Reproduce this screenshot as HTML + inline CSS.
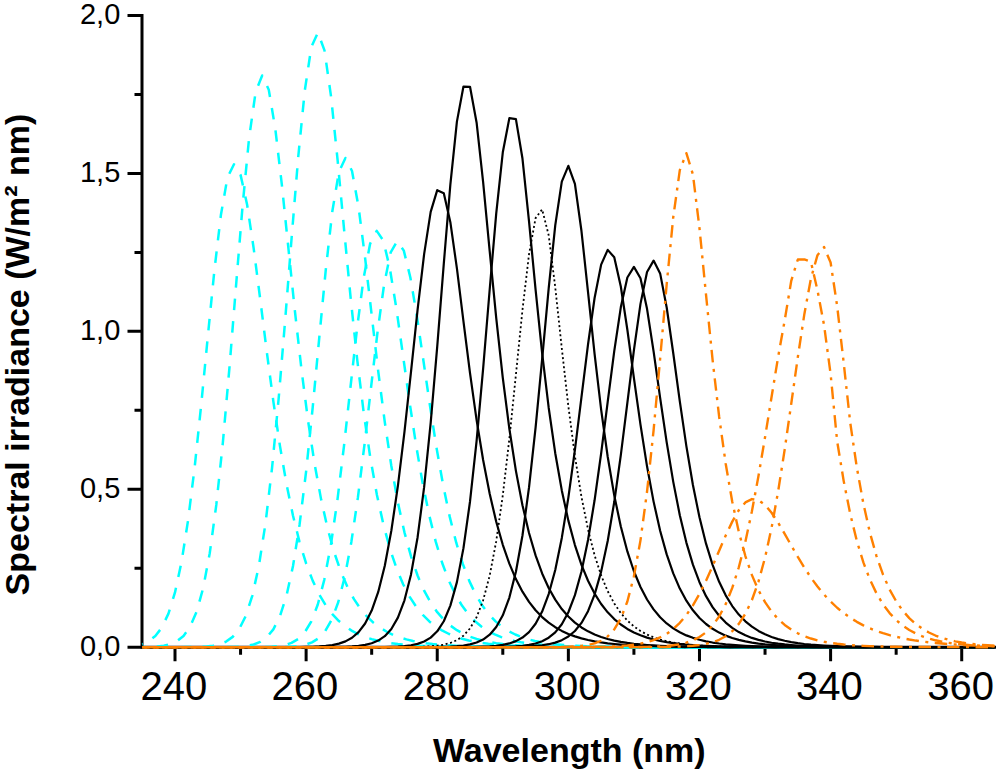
<!DOCTYPE html>
<html><head><meta charset="utf-8"><style>
html,body{margin:0;padding:0;background:#fff;}
body{width:1000px;height:773px;overflow:hidden;}
svg{display:block;font-family:"Liberation Sans",sans-serif;}
</style></head><body>
<svg width="1000" height="773" viewBox="0 0 1000 773">
<rect width="1000" height="773" fill="#fff"/>
<path d="M142.0 15.5 V647.2 H994.5" fill="none" stroke="#000" stroke-width="3" stroke-linecap="square"/>
<path d="M127.5 647.20 H142.0 M127.5 489.28 H142.0 M127.5 331.35 H142.0 M127.5 173.43 H142.0 M127.5 15.50 H142.0 M134.5 568.24 H142.0 M134.5 410.31 H142.0 M134.5 252.39 H142.0 M134.5 94.46 H142.0 M175.00 647.2 V661.2 M306.12 647.2 V661.2 M437.24 647.2 V661.2 M568.36 647.2 V661.2 M699.48 647.2 V661.2 M830.60 647.2 V661.2 M961.72 647.2 V661.2 M240.56 647.2 V654.7 M371.68 647.2 V654.7 M502.80 647.2 V654.7 M633.92 647.2 V654.7 M765.04 647.2 V654.7 M896.16 647.2 V654.7" fill="none" stroke="#000" stroke-width="3"/>
<g>
<polyline fill="none" stroke-linejoin="round" stroke="#00FFFF" stroke-width="2.5" stroke-dasharray="11.5 11.1" stroke-dashoffset="10.82" points="142.22,644.05 148.78,641.17 155.33,636.09 161.89,627.49 168.44,613.63 175.00,592.43 181.56,561.77 188.11,520.08 194.67,467.07 201.22,404.53 207.78,336.85 214.34,270.90 220.89,215.06 227.45,177.52 234.00,164.27 240.56,174.89 247.12,204.69 253.67,248.37 260.23,299.35 266.78,351.73 273.34,401.29 279.90,445.62 286.45,483.79 293.01,515.77 299.56,542.08 306.12,563.45 312.68,580.65 319.23,594.42 325.79,605.40 332.34,614.12 338.90,621.04 345.46,626.52 352.01,630.85 358.57,634.28 365.12,637.00 371.68,639.14 378.24,640.83 384.79,642.17 391.35,643.23 397.90,644.06 404.46,644.72 411.02,645.24 417.57,645.65 424.13,645.98 430.68,646.24 437.24,646.44 443.80,646.60 450.35,646.72 456.91,646.82 463.46,646.90 470.02,646.97 476.58,647.02 483.13,647.05 489.69,647.08 496.24,647.11 502.80,647.13 509.36,647.14 515.91,647.16 522.47,647.16 529.02,647.17 535.58,647.18 542.14,647.18 548.69,647.19 555.25,647.19 561.80,647.19 568.36,647.19 574.92,647.19 581.47,647.20 588.03,647.20 594.58,647.20 601.14,647.20 607.70,647.20 614.25,647.20 620.81,647.20 627.36,647.20 633.92,647.20 640.48,647.20 647.03,647.20 653.59,647.20 660.14,647.20 666.70,647.20 673.26,647.20 679.81,647.20 686.37,647.20 692.92,647.20 699.48,647.20 706.04,647.20 712.59,647.20 719.15,647.20 725.70,647.20 732.26,647.20 738.82,647.20 745.37,647.20 751.93,647.20 758.48,647.20 765.04,647.20 771.60,647.20 778.15,647.20 784.71,647.20 791.26,647.20 797.82,647.20 804.38,647.20 810.93,647.20 817.49,647.20 824.04,647.20 830.60,647.20 837.16,647.20 843.71,647.20 850.27,647.20 856.82,647.20 863.38,647.20 869.94,647.20 876.49,647.20 883.05,647.20 889.60,647.20 896.16,647.20 902.72,647.20 909.27,647.20 915.83,647.20 922.38,647.20 928.94,647.20 935.50,647.20 942.05,647.20 948.61,647.20 955.16,647.20 961.72,647.20 968.28,647.20 974.83,647.20 981.39,647.20 987.94,647.20 994.50,647.20"/>
<polyline fill="none" stroke-linejoin="round" stroke="#00FFFF" stroke-width="2.5" stroke-dasharray="11.5 11.1" stroke-dashoffset="8.13" points="142.22,647.09 144.19,647.05 150.74,646.87 157.30,646.49 163.85,645.71 170.41,644.17 176.97,641.25 183.52,635.95 190.08,626.77 196.63,611.63 203.19,587.99 209.75,553.13 216.30,504.89 222.86,442.59 229.41,368.10 235.97,286.57 242.53,206.39 249.08,138.03 255.64,91.85 262.19,75.51 268.75,89.66 275.31,128.82 281.86,184.85 288.42,248.36 294.97,311.68 301.53,369.98 308.09,420.97 314.64,464.12 321.20,499.86 327.75,529.05 334.31,552.68 340.87,571.70 347.42,586.95 353.98,599.15 360.53,608.90 367.09,616.68 373.65,622.88 380.20,627.82 386.76,631.76 393.31,634.90 399.87,637.40 406.43,639.40 412.98,640.98 419.54,642.25 426.09,643.26 432.65,644.06 439.21,644.70 445.76,645.21 452.32,645.61 458.87,645.93 465.43,646.19 471.99,646.40 478.54,646.56 485.10,646.69 491.65,646.79 498.21,646.88 504.77,646.94 511.32,646.99 517.88,647.04 524.43,647.07 530.99,647.10 537.55,647.12 544.10,647.13 550.66,647.15 557.21,647.16 563.77,647.17 570.33,647.17 576.88,647.18 583.44,647.18 589.99,647.19 596.55,647.19 603.11,647.19 609.66,647.19 616.22,647.19 622.77,647.20 629.33,647.20 635.89,647.20 642.44,647.20 649.00,647.20 655.55,647.20 662.11,647.20 668.67,647.20 675.22,647.20 681.78,647.20 688.33,647.20 694.89,647.20 701.45,647.20 708.00,647.20 714.56,647.20 721.11,647.20 727.67,647.20 734.23,647.20 740.78,647.20 747.34,647.20 753.89,647.20 760.45,647.20 767.01,647.20 773.56,647.20 780.12,647.20 786.67,647.20 793.23,647.20 799.79,647.20 806.34,647.20 812.90,647.20 819.45,647.20 826.01,647.20 832.57,647.20 839.12,647.20 845.68,647.20 852.23,647.20 858.79,647.20 865.35,647.20 871.90,647.20 878.46,647.20 885.01,647.20 891.57,647.20 898.13,647.20 904.68,647.20 911.24,647.20 917.79,647.20 924.35,647.20 930.91,647.20 937.46,647.20 944.02,647.20 950.57,647.20 957.13,647.20 963.69,647.20 970.24,647.20 976.80,647.20 983.35,647.20 989.91,647.20"/>
<polyline fill="none" stroke-linejoin="round" stroke="#00FFFF" stroke-width="2.5" stroke-dasharray="11.5 11.1" stroke-dashoffset="7.52" points="142.22,647.20 147.46,647.20 154.02,647.20 160.58,647.20 167.13,647.19 173.69,647.18 180.24,647.16 186.80,647.12 193.36,647.03 199.91,646.84 206.47,646.45 213.02,645.69 219.58,644.25 226.14,641.59 232.69,636.89 239.25,628.89 245.80,615.85 252.36,595.58 258.92,565.61 265.47,523.61 272.03,468.15 278.58,399.49 285.14,320.44 291.70,236.76 298.25,156.82 304.81,90.41 311.36,46.80 317.92,32.56 324.48,50.44 331.03,96.33 337.59,159.90 344.14,230.04 350.70,298.38 357.26,360.16 363.81,413.45 370.37,458.13 376.92,494.92 383.48,524.87 390.04,549.09 396.59,568.60 403.15,584.27 409.70,596.83 416.26,606.90 422.82,614.96 429.37,621.41 435.93,626.57 442.48,630.70 449.04,634.00 455.60,636.64 462.15,638.75 468.71,640.44 475.26,641.80 481.82,642.88 488.38,643.74 494.93,644.44 501.49,644.99 508.04,645.43 514.60,645.79 521.16,646.07 527.71,646.29 534.27,646.48 540.82,646.62 547.38,646.74 553.94,646.83 560.49,646.90 567.05,646.96 573.60,647.01 580.16,647.05 586.72,647.08 593.27,647.10 599.83,647.12 606.38,647.14 612.94,647.15 619.50,647.16 626.05,647.17 632.61,647.17 639.16,647.18 645.72,647.18 652.28,647.19 658.83,647.19 665.39,647.19 671.94,647.19 678.50,647.19 685.06,647.20 691.61,647.20 698.17,647.20 704.72,647.20 711.28,647.20 717.84,647.20 724.39,647.20 730.95,647.20 737.50,647.20 744.06,647.20 750.62,647.20 757.17,647.20 763.73,647.20 770.28,647.20 776.84,647.20 783.40,647.20 789.95,647.20 796.51,647.20 803.06,647.20 809.62,647.20 816.18,647.20 822.73,647.20 829.29,647.20 835.84,647.20 842.40,647.20 848.96,647.20 855.51,647.20 862.07,647.20 868.62,647.20 875.18,647.20 881.74,647.20 888.29,647.20 894.85,647.20 901.40,647.20 907.96,647.20 914.52,647.20 921.07,647.20 927.63,647.20 934.18,647.20 940.74,647.20 947.30,647.20 953.85,647.20 960.41,647.20 966.96,647.20 973.52,647.20 980.08,647.20 986.63,647.20 993.19,647.20"/>
<polyline fill="none" stroke-linejoin="round" stroke="#00FFFF" stroke-width="2.5" stroke-dasharray="11.5 11.1" stroke-dashoffset="5.32" points="142.22,647.20 148.78,647.20 155.33,647.20 161.89,647.20 168.44,647.20 175.00,647.20 181.56,647.20 188.11,647.20 194.67,647.20 201.22,647.20 207.78,647.19 214.34,647.17 220.89,647.14 227.45,647.06 234.00,646.90 240.56,646.55 247.12,645.86 253.67,644.49 260.23,641.93 266.78,637.31 273.34,629.35 279.90,616.28 286.45,595.93 293.01,566.01 299.56,524.69 306.12,471.40 312.68,407.74 319.23,338.11 325.79,269.66 332.34,211.31 338.90,171.89 345.46,157.95 352.01,171.03 358.57,207.04 365.12,258.07 371.68,315.19 378.24,371.31 384.79,422.19 391.35,466.02 397.90,502.55 404.46,532.35 411.02,556.34 417.57,575.49 424.13,590.69 430.68,602.70 437.24,612.19 443.80,619.66 450.35,625.54 456.91,630.17 463.46,633.81 470.02,636.68 476.58,638.93 483.13,640.70 489.69,642.09 496.24,643.18 502.80,644.04 509.36,644.72 515.91,645.25 522.47,645.67 529.02,645.99 535.58,646.25 542.14,646.46 548.69,646.61 555.25,646.74 561.80,646.84 568.36,646.92 574.92,646.98 581.47,647.02 588.03,647.06 594.58,647.09 601.14,647.11 607.70,647.13 614.25,647.15 620.81,647.16 627.36,647.17 633.92,647.17 640.48,647.18 647.03,647.18 653.59,647.19 660.14,647.19 666.70,647.19 673.26,647.19 679.81,647.20 686.37,647.20 692.92,647.20 699.48,647.20 706.04,647.20 712.59,647.20 719.15,647.20 725.70,647.20 732.26,647.20 738.82,647.20 745.37,647.20 751.93,647.20 758.48,647.20 765.04,647.20 771.60,647.20 778.15,647.20 784.71,647.20 791.26,647.20 797.82,647.20 804.38,647.20 810.93,647.20 817.49,647.20 824.04,647.20 830.60,647.20 837.16,647.20 843.71,647.20 850.27,647.20 856.82,647.20 863.38,647.20 869.94,647.20 876.49,647.20 883.05,647.20 889.60,647.20 896.16,647.20 902.72,647.20 909.27,647.20 915.83,647.20 922.38,647.20 928.94,647.20 935.50,647.20 942.05,647.20 948.61,647.20 955.16,647.20 961.72,647.20 968.28,647.20 974.83,647.20 981.39,647.20 987.94,647.20 994.50,647.20"/>
<polyline fill="none" stroke-linejoin="round" stroke="#00FFFF" stroke-width="2.5" stroke-dasharray="11.5 11.1" stroke-dashoffset="12.43" points="142.22,647.20 147.27,647.20 153.82,647.20 160.38,647.20 166.94,647.20 173.49,647.20 180.05,647.20 186.60,647.20 193.16,647.20 199.72,647.20 206.27,647.20 212.83,647.20 219.38,647.20 225.94,647.20 232.50,647.20 239.05,647.19 245.61,647.18 252.16,647.15 258.72,647.09 265.28,646.95 271.83,646.67 278.39,646.10 284.94,644.98 291.50,642.87 298.06,639.07 304.61,632.51 311.17,621.69 317.72,604.79 324.28,579.83 330.84,545.18 337.39,500.27 343.95,446.33 350.50,387.00 357.06,328.34 363.62,277.97 370.17,243.58 376.73,230.91 383.28,240.48 389.84,268.29 396.40,308.72 402.95,355.12 409.51,401.81 416.06,445.05 422.62,483.00 429.18,515.12 435.73,541.66 442.29,563.24 448.84,580.61 455.40,594.49 461.96,605.53 468.51,614.29 475.07,621.22 481.62,626.70 488.18,631.03 494.74,634.44 501.29,637.14 507.85,639.27 514.40,640.94 520.96,642.27 527.52,643.31 534.07,644.13 540.63,644.78 547.18,645.29 553.74,645.70 560.30,646.01 566.85,646.26 573.41,646.46 579.96,646.62 586.52,646.74 593.08,646.84 599.63,646.91 606.19,646.98 612.74,647.02 619.30,647.06 625.86,647.09 632.41,647.11 638.97,647.13 645.52,647.15 652.08,647.16 658.64,647.17 665.19,647.17 671.75,647.18 678.30,647.18 684.86,647.19 691.42,647.19 697.97,647.19 704.53,647.19 711.08,647.19 717.64,647.20 724.20,647.20 730.75,647.20 737.31,647.20 743.86,647.20 750.42,647.20 756.98,647.20 763.53,647.20 770.09,647.20 776.64,647.20 783.20,647.20 789.76,647.20 796.31,647.20 802.87,647.20 809.42,647.20 815.98,647.20 822.54,647.20 829.09,647.20 835.65,647.20 842.20,647.20 848.76,647.20 855.32,647.20 861.87,647.20 868.43,647.20 874.98,647.20 881.54,647.20 888.10,647.20 894.65,647.20 901.21,647.20 907.76,647.20 914.32,647.20 920.88,647.20 927.43,647.20 933.99,647.20 940.54,647.20 947.10,647.20 953.66,647.20 960.21,647.20 966.77,647.20 973.32,647.20 979.88,647.20 986.44,647.20 992.99,647.20"/>
<polyline fill="none" stroke-linejoin="round" stroke="#00FFFF" stroke-width="2.5" stroke-dasharray="11.5 11.1" stroke-dashoffset="15.31" points="142.22,647.20 148.12,647.20 154.68,647.20 161.23,647.20 167.79,647.20 174.34,647.20 180.90,647.20 187.46,647.20 194.01,647.20 200.57,647.20 207.12,647.20 213.68,647.20 220.24,647.20 226.79,647.20 233.35,647.20 239.90,647.20 246.46,647.20 253.02,647.20 259.57,647.19 266.13,647.17 272.68,647.14 279.24,647.07 285.80,646.91 292.35,646.59 298.91,645.94 305.46,644.69 312.02,642.36 318.58,638.23 325.13,631.20 331.69,619.80 338.24,602.26 344.80,576.77 351.36,541.94 357.91,497.44 364.47,444.75 371.02,387.55 377.58,331.66 384.14,284.23 390.69,252.30 397.25,241.02 403.80,250.65 410.36,277.49 416.92,316.35 423.47,361.02 430.03,406.14 436.58,448.14 443.14,485.17 449.70,516.63 456.25,542.71 462.81,563.98 469.36,581.14 475.92,594.87 482.48,605.81 489.03,614.49 495.59,621.37 502.14,626.81 508.70,631.11 515.26,634.50 521.81,637.19 528.37,639.30 534.92,640.97 541.48,642.29 548.04,643.32 554.59,644.14 561.15,644.79 567.70,645.30 574.26,645.70 580.82,646.02 587.37,646.27 593.93,646.46 600.48,646.62 607.04,646.74 613.60,646.84 620.15,646.92 626.71,646.98 633.26,647.02 639.82,647.06 646.38,647.09 652.93,647.11 659.49,647.13 666.04,647.15 672.60,647.16 679.16,647.17 685.71,647.17 692.27,647.18 698.82,647.18 705.38,647.19 711.94,647.19 718.49,647.19 725.05,647.19 731.60,647.19 738.16,647.20 744.72,647.20 751.27,647.20 757.83,647.20 764.38,647.20 770.94,647.20 777.50,647.20 784.05,647.20 790.61,647.20 797.16,647.20 803.72,647.20 810.28,647.20 816.83,647.20 823.39,647.20 829.94,647.20 836.50,647.20 843.06,647.20 849.61,647.20 856.17,647.20 862.72,647.20 869.28,647.20 875.84,647.20 882.39,647.20 888.95,647.20 895.50,647.20 902.06,647.20 908.62,647.20 915.17,647.20 921.73,647.20 928.28,647.20 934.84,647.20 941.40,647.20 947.95,647.20 954.51,647.20 961.06,647.20 967.62,647.20 974.18,647.20 980.73,647.20 987.29,647.20 993.84,647.20"/>
<polyline fill="none" stroke-linejoin="round" stroke="#000" stroke-width="2.2" points="142.22,647.20 148.78,647.20 155.33,647.20 161.89,647.20 168.44,647.20 175.00,647.20 181.56,647.20 188.11,647.20 194.67,647.20 201.22,647.20 207.78,647.20 214.34,647.20 220.89,647.20 227.45,647.20 234.00,647.20 240.56,647.20 247.12,647.20 253.67,647.20 260.23,647.19 266.78,647.19 273.34,647.18 279.90,647.17 286.45,647.15 293.01,647.11 299.56,647.04 306.12,646.93 312.68,646.74 319.23,646.43 325.79,645.91 332.34,645.05 338.90,643.65 345.46,641.39 352.01,637.78 358.57,632.14 365.12,623.51 371.68,610.62 378.24,591.92 384.79,565.75 391.35,530.63 397.90,485.79 404.46,431.88 411.02,371.57 417.57,309.94 424.13,254.09 430.68,211.90 437.24,190.17 443.80,193.28 450.35,222.19 456.91,268.41 463.46,321.32 470.02,373.14 476.58,419.84 483.13,460.05 489.69,493.82 496.24,521.81 502.80,544.82 509.36,563.67 515.91,579.08 522.47,591.65 529.02,601.91 535.58,610.28 542.14,617.10 548.69,622.66 555.25,627.20 561.80,630.89 568.36,633.91 574.92,636.36 581.47,638.37 588.03,640.00 594.58,641.33 601.14,642.42 607.70,643.30 614.25,644.02 620.81,644.61 627.36,645.09 633.92,645.48 640.48,645.80 647.03,646.06 653.59,646.27 660.14,646.44 666.70,646.58 673.26,646.69 679.81,646.79 686.37,646.86 692.92,646.93 699.48,646.98 706.04,647.02 712.59,647.05 719.15,647.08 725.70,647.10 732.26,647.12 738.82,647.13 745.37,647.15 751.93,647.16 758.48,647.16 765.04,647.17 771.60,647.18 778.15,647.18 784.71,647.18 791.26,647.19 797.82,647.19 804.38,647.19 810.93,647.19 817.49,647.19 824.04,647.20 830.60,647.20 837.16,647.20 843.71,647.20 850.27,647.20 856.82,647.20 863.38,647.20 869.94,647.20 876.49,647.20 883.05,647.20 889.60,647.20 896.16,647.20 902.72,647.20 909.27,647.20 915.83,647.20 922.38,647.20 928.94,647.20 935.50,647.20 942.05,647.20 948.61,647.20 955.16,647.20 961.72,647.20 968.28,647.20 974.83,647.20 981.39,647.20 987.94,647.20 994.50,647.20"/>
<polyline fill="none" stroke-linejoin="round" stroke="#000" stroke-width="2.2" points="142.22,647.20 148.78,647.20 155.33,647.20 161.89,647.20 168.44,647.20 175.00,647.20 181.56,647.20 188.11,647.20 194.67,647.20 201.22,647.20 207.78,647.20 214.34,647.20 220.89,647.20 227.45,647.20 234.00,647.20 240.56,647.20 247.12,647.20 253.67,647.20 260.23,647.20 266.78,647.20 273.34,647.20 279.90,647.20 286.45,647.20 293.01,647.19 299.56,647.19 306.12,647.18 312.68,647.17 319.23,647.15 325.79,647.12 332.34,647.05 338.90,646.94 345.46,646.75 352.01,646.42 358.57,645.86 365.12,644.90 371.68,643.28 378.24,640.58 384.79,636.14 391.35,628.98 397.90,617.67 404.46,600.28 411.02,574.41 417.57,537.44 424.13,487.17 430.68,422.81 437.24,346.35 443.80,263.63 450.35,184.58 456.91,121.64 463.46,86.57 470.02,86.79 476.58,122.48 483.13,182.18 489.69,251.05 496.24,318.14 502.80,377.96 509.36,428.77 515.91,470.84 522.47,505.17 529.02,532.97 535.58,555.41 542.14,573.46 548.69,587.98 555.25,599.65 561.80,609.02 568.36,616.54 574.92,622.58 581.47,627.43 588.03,631.33 594.58,634.46 601.14,636.97 607.70,638.99 614.25,640.60 620.81,641.90 627.36,642.95 633.92,643.79 640.48,644.46 647.03,645.00 653.59,645.43 660.14,645.78 666.70,646.06 673.26,646.29 679.81,646.47 686.37,646.61 692.92,646.73 699.48,646.82 706.04,646.89 712.59,646.95 719.15,647.00 725.70,647.04 732.26,647.07 738.82,647.10 745.37,647.12 751.93,647.13 758.48,647.15 765.04,647.16 771.60,647.17 778.15,647.17 784.71,647.18 791.26,647.18 797.82,647.19 804.38,647.19 810.93,647.19 817.49,647.19 824.04,647.19 830.60,647.20 837.16,647.20 843.71,647.20 850.27,647.20 856.82,647.20 863.38,647.20 869.94,647.20 876.49,647.20 883.05,647.20 889.60,647.20 896.16,647.20 902.72,647.20 909.27,647.20 915.83,647.20 922.38,647.20 928.94,647.20 935.50,647.20 942.05,647.20 948.61,647.20 955.16,647.20 961.72,647.20 968.28,647.20 974.83,647.20 981.39,647.20 987.94,647.20 994.50,647.20"/>
<polyline fill="none" stroke-linejoin="round" stroke="#000" stroke-width="2.2" points="142.22,647.20 148.78,647.20 155.33,647.20 161.89,647.20 168.44,647.20 175.00,647.20 181.56,647.20 188.11,647.20 194.67,647.20 201.22,647.20 207.78,647.20 214.34,647.20 220.89,647.20 227.45,647.20 234.00,647.20 240.56,647.20 247.12,647.20 253.67,647.20 260.23,647.20 266.78,647.20 273.34,647.20 279.90,647.20 286.45,647.20 293.01,647.20 299.56,647.20 306.12,647.20 312.68,647.20 319.23,647.20 325.79,647.20 332.34,647.20 338.90,647.20 345.46,647.19 352.01,647.19 358.57,647.18 365.12,647.16 371.68,647.13 378.24,647.08 384.79,646.99 391.35,646.83 397.90,646.55 404.46,646.07 411.02,645.25 417.57,643.86 424.13,641.52 430.68,637.64 437.24,631.33 443.80,621.26 450.35,605.62 456.91,582.12 463.46,548.16 470.02,501.49 476.58,441.10 483.13,368.62 489.69,289.51 496.24,213.31 502.80,152.28 509.36,118.15 515.91,119.12 522.47,158.53 529.02,221.27 535.58,289.60 542.14,353.05 548.69,407.72 555.25,453.20 561.80,490.41 568.36,520.63 574.92,545.07 581.47,564.82 588.03,580.75 594.58,593.61 601.14,603.98 607.70,612.34 614.25,619.08 620.81,624.52 627.36,628.91 633.92,632.45 640.48,635.31 647.03,637.61 653.59,639.46 660.14,640.96 666.70,642.17 673.26,643.14 679.81,643.93 686.37,644.56 692.92,645.07 699.48,645.48 706.04,645.82 712.59,646.08 719.15,646.30 725.70,646.47 732.26,646.61 738.82,646.73 745.37,646.82 751.93,646.89 758.48,646.95 765.04,647.00 771.60,647.04 778.15,647.07 784.71,647.10 791.26,647.12 797.82,647.13 804.38,647.14 810.93,647.16 817.49,647.16 824.04,647.17 830.60,647.18 837.16,647.18 843.71,647.18 850.27,647.19 856.82,647.19 863.38,647.19 869.94,647.19 876.49,647.19 883.05,647.20 889.60,647.20 896.16,647.20 902.72,647.20 909.27,647.20 915.83,647.20 922.38,647.20 928.94,647.20 935.50,647.20 942.05,647.20 948.61,647.20 955.16,647.20 961.72,647.20 968.28,647.20 974.83,647.20 981.39,647.20 987.94,647.20 994.50,647.20"/>
<polyline fill="none" stroke-linejoin="round" stroke="#000" stroke-width="2.2" points="142.22,647.20 148.78,647.20 155.33,647.20 161.89,647.20 168.44,647.20 175.00,647.20 181.56,647.20 188.11,647.20 194.67,647.20 201.22,647.20 207.78,647.20 214.34,647.20 220.89,647.20 227.45,647.20 234.00,647.20 240.56,647.20 247.12,647.20 253.67,647.20 260.23,647.20 266.78,647.20 273.34,647.20 279.90,647.20 286.45,647.20 293.01,647.20 299.56,647.20 306.12,647.20 312.68,647.20 319.23,647.20 325.79,647.20 332.34,647.20 338.90,647.20 345.46,647.20 352.01,647.20 358.57,647.20 365.12,647.20 371.68,647.20 378.24,647.20 384.79,647.20 391.35,647.19 397.90,647.19 404.46,647.19 411.02,647.17 417.57,647.16 424.13,647.13 430.68,647.08 437.24,646.99 443.80,646.84 450.35,646.60 456.91,646.19 463.46,645.51 470.02,644.38 476.58,642.53 483.13,639.53 489.69,634.70 496.24,627.08 502.80,615.29 509.36,597.55 515.91,571.68 522.47,535.50 529.02,487.46 535.58,427.65 542.14,359.05 548.69,288.32 555.25,225.43 561.80,181.61 568.36,165.84 574.92,183.92 581.47,231.02 588.03,292.03 594.58,353.92 601.14,409.61 607.70,456.75 614.25,495.38 620.81,526.53 627.36,551.43 633.92,571.26 640.48,587.00 647.03,599.49 653.59,609.39 660.14,617.24 666.70,623.46 673.26,628.39 679.81,632.29 686.37,635.39 692.92,637.84 699.48,639.78 706.04,641.32 712.59,642.54 719.15,643.51 725.70,644.28 732.26,644.88 738.82,645.36 745.37,645.75 751.93,646.05 758.48,646.29 765.04,646.48 771.60,646.63 778.15,646.75 784.71,646.84 791.26,646.91 797.82,646.97 804.38,647.02 810.93,647.06 817.49,647.09 824.04,647.11 830.60,647.13 837.16,647.14 843.71,647.16 850.27,647.16 856.82,647.17 863.38,647.18 869.94,647.18 876.49,647.19 883.05,647.19 889.60,647.19 896.16,647.19 902.72,647.19 909.27,647.20 915.83,647.20 922.38,647.20 928.94,647.20 935.50,647.20 942.05,647.20 948.61,647.20 955.16,647.20 961.72,647.20 968.28,647.20 974.83,647.20 981.39,647.20 987.94,647.20 994.50,647.20"/>
<polyline fill="none" stroke-linejoin="round" stroke="#000" stroke-width="2.2" points="142.22,647.20 148.78,647.20 155.33,647.20 161.89,647.20 168.44,647.20 175.00,647.20 181.56,647.20 188.11,647.20 194.67,647.20 201.22,647.20 207.78,647.20 214.34,647.20 220.89,647.20 227.45,647.20 234.00,647.20 240.56,647.20 247.12,647.20 253.67,647.20 260.23,647.20 266.78,647.20 273.34,647.20 279.90,647.20 286.45,647.20 293.01,647.20 299.56,647.20 306.12,647.20 312.68,647.20 319.23,647.20 325.79,647.20 332.34,647.20 338.90,647.20 345.46,647.20 352.01,647.20 358.57,647.20 365.12,647.20 371.68,647.20 378.24,647.20 384.79,647.20 391.35,647.20 397.90,647.20 404.46,647.20 411.02,647.20 417.57,647.20 424.13,647.19 430.68,647.19 437.24,647.19 443.80,647.18 450.35,647.16 456.91,647.13 463.46,647.08 470.02,647.01 476.58,646.88 483.13,646.67 489.69,646.33 496.24,645.77 502.80,644.87 509.36,643.43 515.91,641.14 522.47,637.57 529.02,632.06 535.58,623.76 542.14,611.55 548.69,594.07 555.25,569.92 561.80,537.92 568.36,497.61 574.92,449.79 581.47,397.16 588.03,344.44 594.58,298.00 601.14,264.64 607.70,249.86 614.25,257.28 620.81,286.53 627.36,329.77 633.92,378.04 640.48,424.72 647.03,466.31 653.59,501.62 660.14,530.75 666.70,554.40 673.26,573.41 679.81,588.60 686.37,600.69 692.92,610.31 699.48,617.94 706.04,624.00 712.59,628.81 719.15,632.62 725.70,635.64 732.26,638.03 738.82,639.93 745.37,641.44 751.93,642.63 758.48,643.58 765.04,644.33 771.60,644.92 778.15,645.40 784.71,645.77 791.26,646.07 797.82,646.30 804.38,646.49 810.93,646.64 817.49,646.75 824.04,646.85 830.60,646.92 837.16,646.98 843.71,647.02 850.27,647.06 856.82,647.09 863.38,647.11 869.94,647.13 876.49,647.14 883.05,647.16 889.60,647.17 896.16,647.17 902.72,647.18 909.27,647.18 915.83,647.19 922.38,647.19 928.94,647.19 935.50,647.19 942.05,647.19 948.61,647.20 955.16,647.20 961.72,647.20 968.28,647.20 974.83,647.20 981.39,647.20 987.94,647.20 994.50,647.20"/>
<polyline fill="none" stroke-linejoin="round" stroke="#000" stroke-width="2.2" points="142.22,647.20 148.78,647.20 155.33,647.20 161.89,647.20 168.44,647.20 175.00,647.20 181.56,647.20 188.11,647.20 194.67,647.20 201.22,647.20 207.78,647.20 214.34,647.20 220.89,647.20 227.45,647.20 234.00,647.20 240.56,647.20 247.12,647.20 253.67,647.20 260.23,647.20 266.78,647.20 273.34,647.20 279.90,647.20 286.45,647.20 293.01,647.20 299.56,647.20 306.12,647.20 312.68,647.20 319.23,647.20 325.79,647.20 332.34,647.20 338.90,647.20 345.46,647.20 352.01,647.20 358.57,647.20 365.12,647.20 371.68,647.20 378.24,647.20 384.79,647.20 391.35,647.20 397.90,647.20 404.46,647.20 411.02,647.20 417.57,647.20 424.13,647.20 430.68,647.20 437.24,647.20 443.80,647.20 450.35,647.19 456.91,647.19 463.46,647.18 470.02,647.17 476.58,647.16 483.13,647.13 489.69,647.08 496.24,647.00 502.80,646.87 509.36,646.66 515.91,646.32 522.47,645.77 529.02,644.88 535.58,643.46 542.14,641.22 548.69,637.71 555.25,632.33 561.80,624.22 568.36,612.26 574.92,595.13 581.47,571.42 588.03,539.96 594.58,500.30 601.14,453.35 607.70,401.95 614.25,351.07 620.81,307.31 627.36,277.51 633.92,266.92 640.48,278.19 647.03,308.85 653.59,351.42 660.14,397.88 666.70,442.40 673.26,481.86 679.81,515.21 686.37,542.58 692.92,564.64 699.48,582.23 706.04,596.16 712.59,607.14 719.15,615.78 725.70,622.56 732.26,627.89 738.82,632.06 745.37,635.34 751.93,637.90 758.48,639.91 765.04,641.49 771.60,642.73 778.15,643.69 784.71,644.45 791.26,645.05 797.82,645.51 804.38,645.88 810.93,646.16 817.49,646.39 824.04,646.56 830.60,646.70 837.16,646.81 843.71,646.89 850.27,646.96 856.82,647.01 863.38,647.05 869.94,647.08 876.49,647.11 883.05,647.13 889.60,647.14 896.16,647.16 902.72,647.17 909.27,647.17 915.83,647.18 922.38,647.18 928.94,647.19 935.50,647.19 942.05,647.19 948.61,647.19 955.16,647.20 961.72,647.20 968.28,647.20 974.83,647.20 981.39,647.20 987.94,647.20 994.50,647.20"/>
<polyline fill="none" stroke-linejoin="round" stroke="#000" stroke-width="2.2" points="142.22,647.20 148.78,647.20 155.33,647.20 161.89,647.20 168.44,647.20 175.00,647.20 181.56,647.20 188.11,647.20 194.67,647.20 201.22,647.20 207.78,647.20 214.34,647.20 220.89,647.20 227.45,647.20 234.00,647.20 240.56,647.20 247.12,647.20 253.67,647.20 260.23,647.20 266.78,647.20 273.34,647.20 279.90,647.20 286.45,647.20 293.01,647.20 299.56,647.20 306.12,647.20 312.68,647.20 319.23,647.20 325.79,647.20 332.34,647.20 338.90,647.20 345.46,647.20 352.01,647.20 358.57,647.20 365.12,647.20 371.68,647.20 378.24,647.20 384.79,647.20 391.35,647.20 397.90,647.20 404.46,647.20 411.02,647.20 417.57,647.20 424.13,647.20 430.68,647.20 437.24,647.20 443.80,647.20 450.35,647.20 456.91,647.19 463.46,647.19 470.02,647.18 476.58,647.18 483.13,647.16 489.69,647.14 496.24,647.11 502.80,647.06 509.36,646.98 515.91,646.86 522.47,646.67 529.02,646.38 535.58,645.94 542.14,645.25 548.69,644.20 555.25,642.60 561.80,640.16 568.36,636.48 574.92,631.00 581.47,622.92 588.03,611.20 594.58,594.58 601.14,571.62 607.70,541.02 614.25,502.03 620.81,455.15 627.36,402.85 633.92,350.08 640.48,303.89 647.03,272.01 653.59,260.60 660.14,273.38 666.70,307.47 673.26,353.24 679.81,401.43 686.37,446.20 692.92,484.99 699.48,517.31 706.04,543.65 712.59,564.86 719.15,581.82 725.70,595.32 732.26,606.05 738.82,614.57 745.37,621.33 751.93,626.70 758.48,630.95 765.04,634.32 771.60,636.99 778.15,639.10 784.71,640.78 791.26,642.11 797.82,643.17 804.38,644.00 810.93,644.67 817.49,645.19 824.04,645.61 830.60,645.94 837.16,646.20 843.71,646.41 850.27,646.57 856.82,646.70 863.38,646.81 869.94,646.89 876.49,646.95 883.05,647.00 889.60,647.04 896.16,647.08 902.72,647.10 909.27,647.12 915.83,647.14 922.38,647.15 928.94,647.16 935.50,647.17 942.05,647.18 948.61,647.18 955.16,647.18 961.72,647.19 968.28,647.19 974.83,647.19 981.39,647.19 987.94,647.20 994.50,647.20"/>
<polyline fill="none" stroke-linejoin="round" stroke="#000" stroke-width="1.8" stroke-dasharray="2 2.6" points="142.22,647.20 148.78,647.20 155.33,647.20 161.89,647.20 168.44,647.20 175.00,647.20 181.56,647.20 188.11,647.20 194.67,647.20 201.22,647.20 207.78,647.20 214.34,647.20 220.89,647.20 227.45,647.20 234.00,647.20 240.56,647.20 247.12,647.20 253.67,647.20 260.23,647.20 266.78,647.20 273.34,647.20 279.90,647.20 286.45,647.20 293.01,647.20 299.56,647.20 306.12,647.20 312.68,647.20 319.23,647.20 325.79,647.20 332.34,647.20 338.90,647.20 345.46,647.20 352.01,647.20 358.57,647.20 365.12,647.20 371.68,647.19 378.24,647.19 384.79,647.18 391.35,647.16 397.90,647.14 404.46,647.09 411.02,647.02 417.57,646.89 424.13,646.68 430.68,646.31 437.24,645.70 443.80,644.67 450.35,642.96 456.91,640.16 463.46,635.64 470.02,628.44 476.58,617.25 483.13,600.33 489.69,575.61 496.24,541.06 502.80,495.31 509.36,438.76 515.91,374.69 522.47,309.92 529.02,254.25 535.58,218.12 542.14,209.43 548.69,235.31 555.25,287.29 561.80,348.28 568.36,406.29 574.92,456.15 581.47,496.94 588.03,529.51 594.58,555.21 601.14,575.36 607.70,591.13 614.25,603.45 620.81,613.06 627.36,620.57 633.92,626.42 640.48,630.99 647.03,634.55 653.59,637.33 660.14,639.50 666.70,641.19 673.26,642.51 679.81,643.54 686.37,644.35 692.92,644.98 699.48,645.46 706.04,645.85 712.59,646.14 719.15,646.38 725.70,646.56 732.26,646.70 738.82,646.81 745.37,646.89 751.93,646.96 758.48,647.01 765.04,647.06 771.60,647.09 778.15,647.11 784.71,647.13 791.26,647.15 797.82,647.16 804.38,647.17 810.93,647.17 817.49,647.18 824.04,647.18 830.60,647.19 837.16,647.19 843.71,647.19 850.27,647.19 856.82,647.20 863.38,647.20 869.94,647.20 876.49,647.20 883.05,647.20 889.60,647.20 896.16,647.20 902.72,647.20 909.27,647.20 915.83,647.20 922.38,647.20 928.94,647.20 935.50,647.20 942.05,647.20 948.61,647.20 955.16,647.20 961.72,647.20 968.28,647.20 974.83,647.20 981.39,647.20 987.94,647.20 994.50,647.20"/>
<polyline fill="none" stroke-linejoin="round" stroke="#FF8000" stroke-width="2.4" stroke-dasharray="12.5 6.5 3 6.5" stroke-dashoffset="8.52" points="142.22,647.20 148.78,647.20 155.33,647.20 161.89,647.20 168.44,647.20 175.00,647.20 181.56,647.20 188.11,647.20 194.67,647.20 201.22,647.20 207.78,647.20 214.34,647.20 220.89,647.20 227.45,647.20 234.00,647.20 240.56,647.20 247.12,647.20 253.67,647.20 260.23,647.20 266.78,647.20 273.34,647.20 279.90,647.20 286.45,647.20 293.01,647.20 299.56,647.20 306.12,647.20 312.68,647.20 319.23,647.20 325.79,647.20 332.34,647.20 338.90,647.20 345.46,647.20 352.01,647.20 358.57,647.20 365.12,647.20 371.68,647.20 378.24,647.20 384.79,647.20 391.35,647.20 397.90,647.20 404.46,647.20 411.02,647.20 417.57,647.20 424.13,647.20 430.68,647.20 437.24,647.20 443.80,647.20 450.35,647.20 456.91,647.20 463.46,647.20 470.02,647.20 476.58,647.20 483.13,647.20 489.69,647.20 496.24,647.20 502.80,647.20 509.36,647.20 515.91,647.19 522.47,647.19 529.02,647.18 535.58,647.17 542.14,647.15 548.69,647.11 555.25,647.05 561.80,646.94 568.36,646.75 574.92,646.43 581.47,645.88 588.03,644.94 594.58,643.36 601.14,640.74 607.70,636.43 614.25,629.46 620.81,618.45 627.36,601.51 633.92,576.30 640.48,540.36 647.03,491.76 653.59,430.27 660.14,358.74 666.70,284.10 673.26,217.13 679.81,170.16 686.37,153.21 692.92,174.41 699.48,228.15 706.04,294.91 712.59,359.98 719.15,416.73 725.70,463.72 732.26,501.68 738.82,531.98 745.37,556.06 751.93,575.13 758.48,590.22 765.04,602.15 771.60,611.59 778.15,619.05 784.71,624.95 791.26,629.61 797.82,633.29 804.38,636.21 810.93,638.51 817.49,640.33 824.04,641.77 830.60,642.91 837.16,643.81 843.71,644.52 850.27,645.08 856.82,645.52 863.38,645.87 869.94,646.15 876.49,646.37 883.05,646.55 889.60,646.68 896.16,646.79 902.72,646.88 909.27,646.94 915.83,647.00 922.38,647.04 928.94,647.07 935.50,647.10 942.05,647.12 948.61,647.14 955.16,647.15 961.72,647.16 968.28,647.17 974.83,647.18 981.39,647.18 987.94,647.18 994.50,647.19"/>
<polyline fill="none" stroke-linejoin="round" stroke="#FF8000" stroke-width="2.4" stroke-dasharray="12.5 6.5 3 6.5" stroke-dashoffset="5.17" points="142.22,647.20 148.78,647.20 155.33,647.20 161.89,647.20 168.44,647.20 175.00,647.20 181.56,647.20 188.11,647.20 194.67,647.20 201.22,647.20 207.78,647.20 214.34,647.20 220.89,647.20 227.45,647.20 234.00,647.20 240.56,647.20 247.12,647.20 253.67,647.20 260.23,647.20 266.78,647.20 273.34,647.20 279.90,647.20 286.45,647.20 293.01,647.20 299.56,647.20 306.12,647.20 312.68,647.20 319.23,647.20 325.79,647.20 332.34,647.20 338.90,647.20 345.46,647.20 352.01,647.20 358.57,647.20 365.12,647.20 371.68,647.20 378.24,647.20 384.79,647.20 391.35,647.20 397.90,647.20 404.46,647.20 411.02,647.20 417.57,647.20 424.13,647.20 430.68,647.20 437.24,647.20 443.80,647.20 450.35,647.20 456.91,647.20 463.46,647.20 470.02,647.20 476.58,647.20 483.13,647.20 489.69,647.20 496.24,647.20 502.80,647.20 509.36,647.20 515.91,647.20 522.47,647.20 529.02,647.19 535.58,647.19 542.14,647.19 548.69,647.18 555.25,647.17 561.80,647.16 568.36,647.14 574.92,647.11 581.47,647.07 588.03,647.01 594.58,646.92 601.14,646.79 607.70,646.61 614.25,646.35 620.81,645.97 627.36,645.44 633.92,644.69 640.48,643.64 647.03,642.18 653.59,640.18 660.14,637.46 666.70,633.82 673.26,629.03 679.81,622.84 686.37,615.02 692.92,605.41 699.48,593.94 706.04,580.71 712.59,566.10 719.15,550.74 725.70,535.54 732.26,521.62 738.82,510.21 745.37,502.42 751.93,499.07 758.48,500.19 765.04,504.95 771.60,512.75 778.15,522.71 784.71,533.90 791.26,545.51 797.82,556.91 804.38,567.70 810.93,577.62 817.49,586.58 824.04,594.55 830.60,601.59 837.16,607.75 843.71,613.12 850.27,617.79 856.82,621.83 863.38,625.33 869.94,628.35 876.49,630.95 883.05,633.20 889.60,635.14 896.16,636.81 902.72,638.25 909.27,639.49 915.83,640.56 922.38,641.48 928.94,642.28 935.50,642.96 942.05,643.55 948.61,644.05 955.16,644.49 961.72,644.87 968.28,645.19 974.83,645.47 981.39,645.71 987.94,645.92 994.50,646.09"/>
<polyline fill="none" stroke-linejoin="round" stroke="#FF8000" stroke-width="2.4" stroke-dasharray="12.5 6.5 3 6.5" stroke-dashoffset="17.03" points="142.22,647.20 148.78,647.20 155.33,647.20 161.89,647.20 168.44,647.20 175.00,647.20 181.56,647.20 188.11,647.20 194.67,647.20 201.22,647.20 207.78,647.20 214.34,647.20 220.89,647.20 227.45,647.20 234.00,647.20 240.56,647.20 247.12,647.20 253.67,647.20 260.23,647.20 266.78,647.20 273.34,647.20 279.90,647.20 286.45,647.20 293.01,647.20 299.56,647.20 306.12,647.20 312.68,647.20 319.23,647.20 325.79,647.20 332.34,647.20 338.90,647.20 345.46,647.20 352.01,647.20 358.57,647.20 365.12,647.20 371.68,647.20 378.24,647.20 384.79,647.20 391.35,647.20 397.90,647.20 404.46,647.20 411.02,647.20 417.57,647.20 424.13,647.20 430.68,647.20 437.24,647.20 443.80,647.20 450.35,647.20 456.91,647.20 463.46,647.20 470.02,647.20 476.58,647.20 483.13,647.20 489.69,647.20 496.24,647.20 502.80,647.20 509.36,647.20 515.91,647.20 522.47,647.20 529.02,647.20 535.58,647.20 542.14,647.20 548.69,647.20 555.25,647.20 561.80,647.20 568.36,647.20 574.92,647.20 581.47,647.20 588.03,647.20 594.58,647.19 601.14,647.19 607.70,647.18 614.25,647.17 620.81,647.15 627.36,647.12 633.92,647.07 640.48,647.00 647.03,646.88 653.59,646.69 660.14,646.40 666.70,645.94 673.26,645.26 679.81,644.22 686.37,642.66 692.92,640.37 699.48,637.04 706.04,632.28 712.59,625.61 719.15,616.43 725.70,604.08 732.26,587.90 738.82,567.24 745.37,541.68 751.93,511.13 758.48,475.98 765.04,437.27 771.60,396.73 778.15,356.76 784.71,320.23 791.26,280.81 797.82,259.49 804.38,259.49 810.93,261.86 817.49,290.29 824.04,325.03 830.60,373.99 837.16,441.29 843.71,481.12 850.27,514.10 856.82,540.88 863.38,562.41 869.94,579.64 876.49,593.40 883.05,604.36 889.60,613.09 896.16,620.04 902.72,625.58 909.27,629.99 915.83,633.50 922.38,636.29 928.94,638.52 935.50,640.29 942.05,641.70 948.61,642.82 955.16,643.71 961.72,644.42 968.28,644.99 974.83,645.44 981.39,645.80 987.94,646.09 994.50,646.31"/>
<polyline fill="none" stroke-linejoin="round" stroke="#FF8000" stroke-width="2.4" stroke-dasharray="12.5 6.5 3 6.5" stroke-dashoffset="25.07" points="142.22,647.20 148.78,647.20 155.33,647.20 161.89,647.20 168.44,647.20 175.00,647.20 181.56,647.20 188.11,647.20 194.67,647.20 201.22,647.20 207.78,647.20 214.34,647.20 220.89,647.20 227.45,647.20 234.00,647.20 240.56,647.20 247.12,647.20 253.67,647.20 260.23,647.20 266.78,647.20 273.34,647.20 279.90,647.20 286.45,647.20 293.01,647.20 299.56,647.20 306.12,647.20 312.68,647.20 319.23,647.20 325.79,647.20 332.34,647.20 338.90,647.20 345.46,647.20 352.01,647.20 358.57,647.20 365.12,647.20 371.68,647.20 378.24,647.20 384.79,647.20 391.35,647.20 397.90,647.20 404.46,647.20 411.02,647.20 417.57,647.20 424.13,647.20 430.68,647.20 437.24,647.20 443.80,647.20 450.35,647.20 456.91,647.20 463.46,647.20 470.02,647.20 476.58,647.20 483.13,647.20 489.69,647.20 496.24,647.20 502.80,647.20 509.36,647.20 515.91,647.20 522.47,647.20 529.02,647.20 535.58,647.20 542.14,647.20 548.69,647.20 555.25,647.20 561.80,647.20 568.36,647.20 574.92,647.20 581.47,647.20 588.03,647.20 594.58,647.20 601.14,647.20 607.70,647.19 614.25,647.19 620.81,647.19 627.36,647.18 633.92,647.17 640.48,647.15 647.03,647.12 653.59,647.08 660.14,647.02 666.70,646.93 673.26,646.78 679.81,646.56 686.37,646.23 692.92,645.73 699.48,644.98 706.04,643.86 712.59,642.20 719.15,639.76 725.70,636.22 732.26,631.12 738.82,623.88 745.37,613.80 751.93,600.01 758.48,581.59 765.04,557.66 771.60,527.60 778.15,491.27 784.71,449.36 791.26,403.66 797.82,357.16 804.38,313.91 810.93,278.49 817.49,255.16 824.04,247.02 830.60,262.49 837.16,306.08 843.71,362.94 850.27,422.99 856.82,467.39 863.38,503.64 869.94,532.80 876.49,556.10 883.05,574.68 889.60,589.48 896.16,601.26 902.72,610.63 909.27,618.10 915.83,624.04 922.38,628.76 928.94,632.53 935.50,635.52 942.05,637.91 948.61,639.80 955.16,641.31 961.72,642.51 968.28,643.47 974.83,644.23 981.39,644.84 987.94,645.32 994.50,645.70"/>
</g>
<g fill="#000">
<text x="120.3" y="655.8" text-anchor="end" font-size="29">0,0</text>
<text x="120.3" y="497.9" text-anchor="end" font-size="29">0,5</text>
<text x="120.3" y="340.0" text-anchor="end" font-size="29">1,0</text>
<text x="120.3" y="182.0" text-anchor="end" font-size="29">1,5</text>
<text x="120.3" y="24.1" text-anchor="end" font-size="29">2,0</text>
<text x="173.80" y="700" text-anchor="middle" font-size="40">240</text>
<text x="304.92" y="700" text-anchor="middle" font-size="40">260</text>
<text x="436.04" y="700" text-anchor="middle" font-size="40">280</text>
<text x="567.16" y="700" text-anchor="middle" font-size="40">300</text>
<text x="698.28" y="700" text-anchor="middle" font-size="40">320</text>
<text x="829.40" y="700" text-anchor="middle" font-size="40">340</text>
<text x="960.52" y="700" text-anchor="middle" font-size="40">360</text>
<text x="569.3" y="761.7" text-anchor="middle" font-size="34" font-weight="bold">Wavelength (nm)</text>
<text transform="translate(29.2 354.5) rotate(-90)" x="0" y="0" text-anchor="middle" font-size="34" font-weight="bold">Spectral irradiance (W/m² nm)</text>
</g>
</svg>
</body></html>
